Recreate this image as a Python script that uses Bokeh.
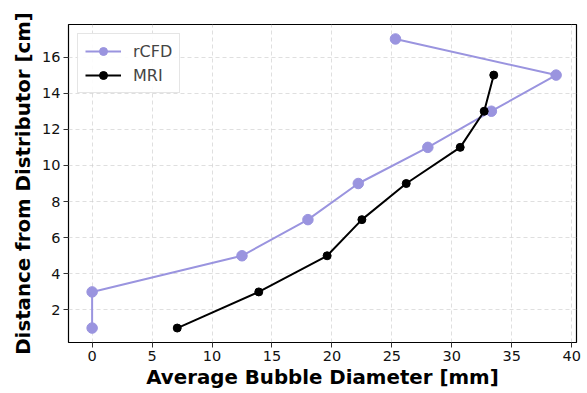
from bokeh.plotting import figure
from bokeh.models import Range1d, FixedTicker, Legend, LegendItem
from bokeh.embed import file_html
from bokeh.resources import INLINE

# Bubble diameter profiles along the bed height
heights = [1, 3, 5, 7, 9, 11, 13, 15, 17]
rcfd_diam = [0.0, 0.0, 12.5, 18.0, 22.2, 28.0, 33.3, 38.7, 25.3]

mri_heights = [1, 3, 5, 7, 9, 11, 13, 15]
mri_diam = [7.1, 13.9, 19.6, 22.5, 26.2, 30.7, 32.7, 33.5]

x_ticks = [0, 5, 10, 15, 20, 25, 30, 35, 40]
y_ticks = [2, 4, 6, 8, 10, 12, 14, 16]

RCFD_COLOR = "#9a94df"
FONT = "DejaVu Sans"

p = figure(width=587, height=393, output_backend="svg", toolbar_location=None,
           x_range=Range1d(-1.97, 40.4), y_range=Range1d(0.2, 17.8),
           min_border_left=68, min_border_right=11, min_border_top=24,
           min_border_bottom=51)

p.outline_line_color = "black"
p.outline_line_width = 1.2
p.background_fill_color = "white"
p.border_fill_color = "white"

for ax in (p.xaxis[0], p.yaxis[0]):
    ax.major_label_text_font = FONT
    ax.major_label_text_font_size = "14.5px"
    ax.major_label_text_color = "#111111"
    ax.axis_label_text_font = FONT
    ax.axis_label_text_font_style = "bold"
    ax.axis_label_text_font_size = "19.8px"
    ax.axis_label_text_color = "black"
    ax.axis_line_color = None
    ax.major_tick_in = 0
    ax.major_tick_out = 5
    ax.major_tick_line_color = "#333333"
    ax.minor_tick_line_color = None

p.xaxis.ticker = FixedTicker(ticks=x_ticks)
p.yaxis.ticker = FixedTicker(ticks=y_ticks)
p.xaxis.axis_label = "Average Bubble Diameter [mm]"
p.yaxis.axis_label = "Distance from Distributor [cm]"
p.xaxis.axis_label_standoff = 2
p.yaxis.axis_label_standoff = 4
p.xaxis.major_label_standoff = 3
p.yaxis.major_label_standoff = 3

p.grid.grid_line_color = "#cccccc"
p.grid.grid_line_alpha = 0.8
p.grid.grid_line_dash = "4 3"
p.grid.grid_line_width = 0.8

r_line = p.line(rcfd_diam, heights, line_color=RCFD_COLOR, line_width=2)
r_pts = p.scatter(rcfd_diam, heights, size=10.5, fill_color=RCFD_COLOR,
                  line_color=RCFD_COLOR)

m_line = p.line(mri_diam, mri_heights, line_color="black", line_width=2)
m_pts = p.scatter(mri_diam, mri_heights, size=8, fill_color="black",
                  line_color="black")

legend = Legend(items=[
    LegendItem(label="rCFD", renderers=[r_line, r_pts]),
    LegendItem(label="MRI", renderers=[m_line, m_pts]),
], location="top_left")
legend.label_text_font = FONT
legend.label_text_font_size = "16px"
legend.label_standoff = 12
legend.border_line_color = "#cccccc"
legend.border_line_width = 1
legend.background_fill_alpha = 0.9
legend.glyph_width = 36
legend.glyph_height = 20
legend.spacing = 4
legend.padding = 7
legend.margin = 9
p.add_layout(legend)

open("out.html", "w").write(file_html(p, INLINE))
